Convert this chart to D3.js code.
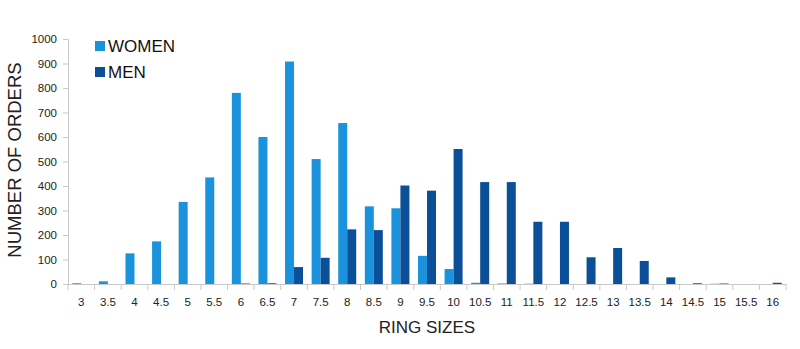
<!DOCTYPE html>
<html>
<head>
<meta charset="utf-8">
<script src="https://cdn.jsdelivr.net/npm/d3@7"></script>
<style>
  body { margin: 0; background: #fff; }
  svg text { font-family: "Liberation Sans", Arial, sans-serif; }
</style>
</head>
<body>
<div id="chart"></div>
<script>
// ring sizes on the x axis
var sizes = ['3','3.5','4','4.5','5','5.5','6','6.5','7','7.5','8','8.5','9','9.5',
             '10','10.5','11','11.5','12','12.5','13','13.5','14','14.5','15','15.5','16'];

var women = [3, 11, 125, 174, 335, 435, 780, 600, 908, 510, 657, 317, 309, 115,
             61, 5, 2, 1, 0, 0, 0, 0, 0, 0, 1, 0, 0];

var men = [0, 0, 0, 0, 0, 0, 2, 3, 69, 107, 223, 220, 402, 381,
           551, 416, 416, 254, 254, 109, 147, 94, 27, 3, 2, 0, 5];

var yTicks = [0, 100, 200, 300, 400, 500, 600, 700, 800, 900, 1000];

var series = [
  { name: 'WOMEN', values: women, color: '#1b93dc' },
  { name: 'MEN',   values: men,   color: '#0b4f98' }
];

var width = 800, height = 349;
var margin = { top: 39, right: 14, bottom: 65, left: 68 };

var svg = d3.select('#chart').append('svg')
  .attr('width', width)
  .attr('height', height);

var x = d3.scaleBand()
  .domain(sizes)
  .range([margin.left, width - margin.right]);

var sub = d3.scaleBand()
  .domain(series.map(function(s) { return s.name; }))
  .range([x.bandwidth() / 2 - 9, x.bandwidth() / 2 + 9]);

var y = d3.scaleLinear()
  .domain([0, 1000])
  .range([height - margin.bottom, margin.top]);

// bars
series.forEach(function(s) {
  svg.append('g')
    .selectAll('rect')
    .data(s.values)
    .enter()
    .append('rect')
    .attr('x', function(d, i) { return x(sizes[i]) + sub(s.name); })
    .attr('width', sub.bandwidth())
    .attr('y', function(d) { return y(d); })
    .attr('height', function(d) { return y(0) - y(d); })
    .attr('fill', s.color);
});

// y axis
var yAxis = svg.append('g')
  .attr('transform', 'translate(' + margin.left + ',0)')
  .call(d3.axisLeft(y).tickValues(yTicks).tickFormat(d3.format('d')).tickSize(5).tickPadding(6));
yAxis.select('.domain').attr('stroke', '#c8c8c8');
yAxis.selectAll('.tick line').attr('stroke', '#c8c8c8');
yAxis.selectAll('text').attr('font-size', 11.5).attr('fill', '#222');

// x axis, ticks between categories
var xAxis = svg.append('g')
  .attr('transform', 'translate(0,' + y(0) + ')')
  .call(d3.axisBottom(x).tickSize(0).tickPadding(14));
xAxis.select('.domain').attr('stroke', '#c8c8c8');
xAxis.selectAll('text').attr('font-size', 11.5).attr('fill', '#222');
xAxis.selectAll('.sep')
  .data(sizes.concat(['end']))
  .enter()
  .append('line')
  .attr('x1', function(d, i) { return margin.left + i * x.step(); })
  .attr('x2', function(d, i) { return margin.left + i * x.step(); })
  .attr('y1', 0)
  .attr('y2', 6)
  .attr('stroke', '#c8c8c8');

// axis titles
svg.append('text')
  .attr('x', (margin.left + width - margin.right) / 2)
  .attr('y', 333)
  .attr('text-anchor', 'middle')
  .attr('font-size', 17)
  .attr('fill', '#222')
  .text('RING SIZES');

svg.append('text')
  .attr('transform', 'translate(21,' + 160 + ') rotate(-90)')
  .attr('text-anchor', 'middle')
  .attr('font-size', 18.5)
  .attr('fill', '#222')
  .text('NUMBER OF ORDERS');

// legend
var legend = svg.append('g')
  .selectAll('g')
  .data(series)
  .enter()
  .append('g')
  .attr('transform', function(d, i) { return 'translate(95,' + (41 + i * 26) + ')'; });
legend.append('rect')
  .attr('width', 10)
  .attr('height', 10)
  .attr('fill', function(d) { return d.color; });
legend.append('text')
  .attr('x', 13)
  .attr('y', 11)
  .attr('font-size', 17)
  .attr('fill', '#111')
  .text(function(d) { return d.name; });
</script>
</body>
</html>
